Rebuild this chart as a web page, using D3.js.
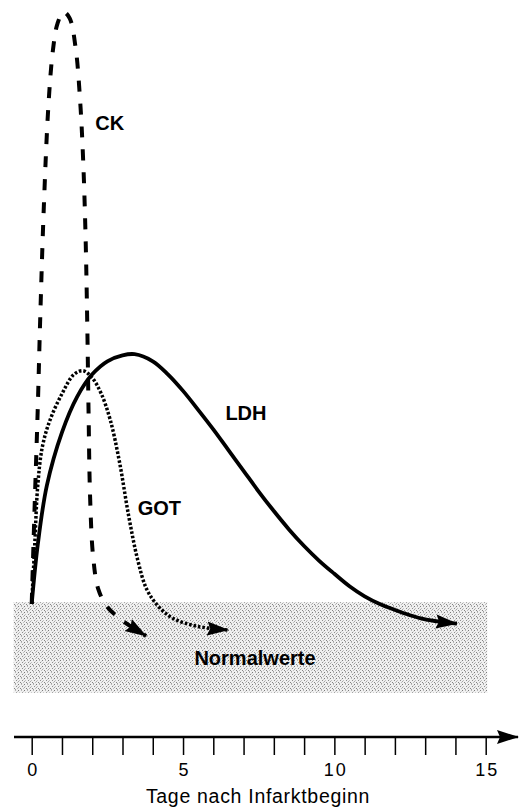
<!DOCTYPE html>
<html>
<head>
<meta charset="utf-8">
<script src="https://cdn.jsdelivr.net/npm/d3@7"></script>
<style>
  body { margin: 0; background: #fff; }
  text { font-family: "Liberation Sans", Arial, Helvetica, sans-serif; fill: #000; }
</style>
</head>
<body>
<div id="container"></div>
<script>
/**
 * CONSTANTS AND GLOBALS
 * */
const w = 519
const h = 812

// curves: [day, relative activity]
const ck = [[0,0],[0.1,17],[0.2,33],[0.28,48],[0.4,67],[0.55,84],[0.7,93.5],[0.85,98],[1.05,100],
  [1.25,99],[1.45,94],[1.6,85],[1.7,75],[1.78,62],[1.84,46],[1.88,32],[1.93,18],[2.03,8],
  [2.2,2.5],[2.5,-0.5],[3.0,-2.8],[3.78,-5.4]]
const got = [[0,0],[0.1,10],[0.2,20],[0.35,26.5],[0.6,31],[1.0,35.5],[1.4,38.8],[1.7,39.4],
  [2.0,38.2],[2.3,35.5],[2.6,31],[2.9,24],[3.2,15],[3.5,7.5],[3.8,2.5],[4.2,-0.5],[4.7,-2.5],
  [5.5,-3.8],[6.49,-4.4]]
const ldh = [[0,0],[0.2,10],[0.5,20],[1.0,29],[1.5,35],[2.0,38.8],[2.5,41],[3.0,42],[3.4,42.2],
  [4.0,41],[4.5,38.8],[5.0,36],[5.5,32.8],[6.0,29.5],[6.5,26],[7.0,22.5],[7.5,19],[8.0,15.7],
  [8.5,12.6],[9.0,9.8],[9.5,7.3],[10,5.1],[10.5,3],[11,1.3],[11.5,0],[12,-1],[12.5,-1.9],
  [13,-2.6],[13.5,-3],[14.05,-3.3]]

const seriesNames = ["CK", "GOT", "LDH"]
const labelPos = [[2.1, 80], [3.5, 15], [6.4, 31]]   // day, value of each curve label
const normalRange = [-0.6, 15.05]                     // days covered by the grey band
const normalValues = [0.3, -15]
const tickDays = d3.range(0, 16)
const tickLabels = [0, 5, 10, 15]
const xTitle = "Tage nach Infarktbeginn"
const normalTitle = "Normalwerte"

/**
 * SCALES
 * */
const x = d3.scaleLinear().domain([0, 15]).range([31.7, 485.7])
const y = d3.scaleLinear().domain([0, 100]).range([604, 12])

const svg = d3.select("#container").append("svg")
  .attr("width", w)
  .attr("height", h)

const defs = svg.append("defs")

// dithered grey like the print
const pat = defs.append("pattern")
  .attr("id", "dither")
  .attr("width", 6).attr("height", 6)
  .attr("patternUnits", "userSpaceOnUse")
pat.append("rect").attr("width", 6).attr("height", 6).attr("fill", "#f0f0f0")
const dots = [[0,0,"#7a7a7a"],[3,0,"#b5b5b5"],[1,2,"#c0c0c0"],[4,2,"#8e8e8e"],[0,3,"#a8a8a8"],
  [2,4,"#858585"],[5,4,"#bcbcbc"],[3,5,"#a0a0a0"],[5,1,"#d0d0d0"]]
pat.selectAll("rect.d").data(dots).join("rect")
  .attr("class", "d")
  .attr("x", d => d[0]).attr("y", d => d[1])
  .attr("width", 1).attr("height", 1)
  .attr("fill", d => d[2])

defs.append("marker")
  .attr("id", "arrow")
  .attr("markerUnits", "userSpaceOnUse")
  .attr("viewBox", "0 -8 22 16")
  .attr("refX", 21).attr("refY", 0)
  .attr("markerWidth", 22).attr("markerHeight", 16)
  .attr("orient", "auto")
  .append("path")
  .attr("d", "M0,-7L22,0L0,7L3,0Z")
  .attr("fill", "#000")

// normal band
svg.append("rect")
  .attr("x", x(normalRange[0]))
  .attr("y", y(normalValues[0]))
  .attr("width", x(normalRange[1]) - x(normalRange[0]))
  .attr("height", y(normalValues[1]) - y(normalValues[0]))
  .attr("fill", "url(#dither)")

svg.append("text")
  .attr("x", 255).attr("y", 665)
  .attr("text-anchor", "middle")
  .attr("font-size", 20)
  .attr("font-weight", "bold")
  .text(normalTitle)

// curves
const line = d3.line()
  .x(d => x(d[0]))
  .y(d => y(d[1]))
  .curve(d3.curveCatmullRom.alpha(0.5))

const styles = {
  CK: { width: 4, dash: "11,12" },
  GOT: { width: 3.5, dash: "2.6,1.9" },
  LDH: { width: 3.8, dash: null }
}
const data = [ck, got, ldh]

svg.selectAll("path.curve")
  .data(data)
  .join("path")
  .attr("class", "curve")
  .attr("d", line)
  .attr("fill", "none")
  .attr("stroke", "#000")
  .attr("stroke-width", (d, i) => styles[seriesNames[i]].width)
  .attr("stroke-dasharray", (d, i) => styles[seriesNames[i]].dash)
  .attr("marker-end", "url(#arrow)")

svg.selectAll("text.lab")
  .data(seriesNames)
  .join("text")
  .attr("class", "lab")
  .attr("x", (d, i) => x(labelPos[i][0]))
  .attr("y", (d, i) => y(labelPos[i][1]))
  .attr("font-size", 20)
  .attr("font-weight", "bold")
  .text(d => d)

// x axis
const axisY = 737
const axis = d3.axisBottom(x)
  .tickValues(tickDays)
  .tickSize(18)
  .tickSizeOuter(0)
  .tickFormat(d => tickLabels.includes(d) ? d : "")

const gx = svg.append("g")
  .attr("transform", `translate(0,${axisY})`)
  .call(axis)
gx.select(".domain").remove()
gx.selectAll(".tick line").attr("stroke", "#000").attr("stroke-width", 1.5)
gx.selectAll(".tick text")
  .attr("y", 26)
  .attr("dx", 1)
  .attr("font-size", 18)
  .attr("letter-spacing", 2)
  .attr("fill", "#000")
  .style("font-family", "'Liberation Sans', Arial, sans-serif")

svg.append("line")
  .attr("x1", 14).attr("x2", 518)
  .attr("y1", axisY).attr("y2", axisY)
  .attr("stroke", "#000")
  .attr("stroke-width", 2.5)
  .attr("marker-end", "url(#arrow)")

svg.append("text")
  .attr("x", 258).attr("y", 803)
  .attr("text-anchor", "middle")
  .attr("font-size", 19.5)
  .attr("letter-spacing", 0.7)
  .text(xTitle)
</script>
</body>
</html>
